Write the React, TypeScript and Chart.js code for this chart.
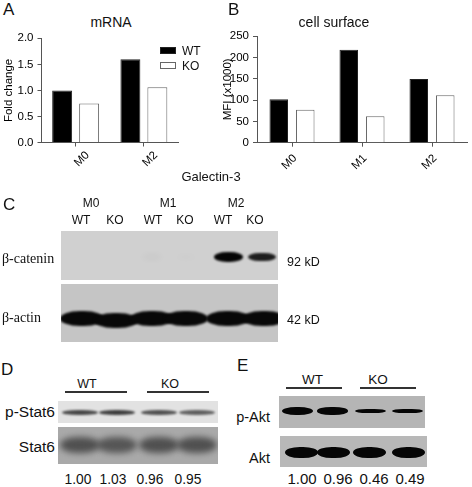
import React, { useEffect, useRef } from 'react';
import { Chart, registerables } from 'chart.js';

Chart.register(...registerables);

const SANS = '"Liberation Sans", Arial, Helvetica, sans-serif';
const SERIF = '"Liberation Serif", "Times New Roman", serif';

// ---------- Panel A: Galectin-3 mRNA ----------
const mrnaCategories = ['M0', 'M2'];
const mrnaWT = [1.0, 1.6];
const mrnaKO = [0.75, 1.06];
const mrnaTicks = [0, 0.5, 1.0, 1.5, 2.0];

// ---------- Panel B: Galectin-3 cell surface ----------
const surfaceCategories = ['M0', 'M1', 'M2'];
const surfaceWT = [102, 218, 149];
const surfaceKO = [77, 62, 111];
const surfaceTicks = [0, 50, 100, 150, 200, 250];

const seriesNames = ['WT', 'KO'];

// ---------- Panel C: western blot ----------
const cGroups = ['M0', 'M1', 'M2'];
const cLanes = ['WT', 'KO', 'WT', 'KO', 'WT', 'KO'];
const betaCateninSignal = [0.0, 0.0, 0.04, 0.015, 1.0, 0.8];
const betaActinSignal = [1, 1, 1, 1, 1, 1];
const cMarkers = ['92 kD', '42 kD'];

// ---------- Panel D ----------
const dGroups = ['WT', 'KO'];
const pStat6Signal = [0.85, 0.9, 0.8, 0.72];
const stat6Signal = [0.8, 0.75, 0.8, 0.8];
const pStat6Ratio = [1.0, 1.03, 0.96, 0.95];

// ---------- Panel E ----------
const eGroups = ['WT', 'KO'];
const pAktSignal = [1.0, 0.96, 0.6, 0.62];
const aktSignal = [1, 1, 1, 1];
const pAktRatio = [1.0, 0.96, 0.46, 0.49];

type Area = { left: number; top: number; right: number; bottom: number };

type BarProps = {
  left: number;
  top: number;
  width: number;
  height: number;
  labels: string[];
  wt: number[];
  ko: number[];
  ticks: number[];
  decimals: number;
  yTitle: string;
  titlePad: number;
  area: Area;
  catPct: number;
  barPct: number;
  labelOffset: number;
  labelPad: number;
};

function BarChart(p: BarProps) {
  const ref = useRef<HTMLCanvasElement | null>(null);
  useEffect(() => {
    if (!ref.current) return;
    const axisColor = '#555';
    const tickFont = { family: SANS, size: 11.5 };
    const chart = new Chart(ref.current, {
      type: 'bar',
      data: {
        labels: p.labels,
        datasets: [
          {
            label: seriesNames[0],
            data: p.wt,
            backgroundColor: '#000',
            borderColor: '#222',
            borderWidth: 1,
            categoryPercentage: p.catPct,
            barPercentage: p.barPct,
          },
          {
            label: seriesNames[1],
            data: p.ko,
            backgroundColor: '#fff',
            borderColor: '#666',
            borderWidth: 1,
            categoryPercentage: p.catPct,
            barPercentage: p.barPct,
          },
        ],
      },
      options: {
        animation: false,
        responsive: false,
        maintainAspectRatio: false,
        events: [],
        layout: {
          padding: {
            left: 0,
            top: p.area.top,
            right: p.width - p.area.right,
            bottom: 0,
          },
        },
        plugins: {
          legend: { display: false },
          title: { display: false },
          tooltip: { enabled: false },
        },
        scales: {
          x: {
            offset: true,
            grid: {
              offset: false,
              drawOnChartArea: false,
              drawTicks: true,
              tickLength: 4,
              color: axisColor,
              lineWidth: 1,
            },
            border: { display: true, color: axisColor, width: 1 },
            ticks: {
              minRotation: 45,
              maxRotation: 45,
              autoSkip: false,
              font: tickFont,
              color: '#000',
              padding: p.labelPad,
              labelOffset: p.labelOffset,
            },
            afterFit: (s: any) => {
              s.height = p.height - p.area.bottom;
            },
          },
          y: {
            min: p.ticks[0],
            max: p.ticks[p.ticks.length - 1],
            afterBuildTicks: (s: any) => {
              s.ticks = p.ticks.map((v) => ({ value: v }));
            },
            grid: {
              drawOnChartArea: false,
              drawTicks: true,
              tickLength: 4,
              color: axisColor,
              lineWidth: 1,
            },
            border: { display: true, color: axisColor, width: 1 },
            ticks: {
              font: tickFont,
              color: '#000',
              padding: 4,
              callback: (v: any) => Number(v).toFixed(p.decimals),
            },
            title: {
              display: true,
              text: p.yTitle,
              font: { family: SANS, size: 11.5 },
              color: '#000',
              padding: { top: p.titlePad, bottom: 0 },
            },
            afterFit: (s: any) => {
              s.width = p.area.left;
            },
          },
        },
      },
    });
    return () => chart.destroy();
  }, []);
  return (
    <canvas
      ref={ref}
      width={p.width}
      height={p.height}
      style={{ position: 'absolute', left: p.left, top: p.top, width: p.width, height: p.height }}
    />
  );
}

type TextProps = {
  x: number;
  y: number;
  text: string;
  size: number;
  align?: 'left' | 'center' | 'right';
  family?: string;
  scaleX?: number;
};

function T({ x, y, text, size, align = 'center', family = SANS, scaleX = 1 }: TextProps) {
  const tx = align === 'center' ? '-50%' : align === 'right' ? '-100%' : '0';
  return (
    <div
      style={{
        position: 'absolute',
        left: x,
        top: y,
        transform: `translate(${tx}, -50%) scaleX(${scaleX})`,
        transformOrigin: align === 'right' ? 'right center' : align === 'left' ? 'left center' : 'center',
        fontFamily: family,
        fontSize: size,
        lineHeight: 1,
        whiteSpace: 'nowrap',
        color: '#111',
      }}
    >
      {text}
    </div>
  );
}

type Band = { cx: number; cy: number; w: number; h: number; color: string; blur: number; op: number };

function Blot({ x, y, w, h, bg, bands }: { x: number; y: number; w: number; h: number; bg: string; bands: Band[] }) {
  return (
    <div
      style={{
        position: 'absolute',
        left: x,
        top: y,
        width: w,
        height: h,
        background: bg,
        overflow: 'hidden',
      }}
    >
      {bands.map((b, i) => (
        <div
          key={i}
          style={{
            position: 'absolute',
            left: b.cx - b.w / 2 - x,
            top: b.cy - b.h / 2 - y,
            width: b.w,
            height: b.h,
            borderRadius: '45% / 50%',
            background: b.color,
            filter: `blur(${b.blur}px)`,
            opacity: b.op,
          }}
        />
      ))}
    </div>
  );
}

function Rule({ x1, x2, y }: { x1: number; x2: number; y: number }) {
  return (
    <div
      style={{ position: 'absolute', left: x1, top: y - 0.75, width: x2 - x1, height: 1.5, background: '#333' }}
    />
  );
}

export default function App() {
  // lane layouts
  const cLaneX = [82, 116, 152, 186, 228, 262];
  const cLaneLabelX = [81, 115, 153, 185, 223, 255];
  const cGroupX = [91, 168, 236];
  const dLaneX = [80, 117, 159, 197];
  const dNumX = [78, 112.5, 150, 188];
  const eLaneX = [297, 332, 370, 407];
  const eAktX = [301, 333, 369, 408];
  const eNumX = [302, 338, 374, 410];

  const cateninBands: Band[] = betaCateninSignal.map((s, i) => ({
    cx: cLaneX[i],
    cy: 257,
    w: 20 + 9 * s,
    h: 4 + 6 * s,
    color: '#050505',
    blur: s > 0.5 ? 1 : 3,
    op: Math.min(1, s * 1.1),
  }));
  const actinBands: Band[] = betaActinSignal.map((s, i) => ({
    cx: cLaneX[i] + (i === 5 ? 2 : 0),
    cy: i === 1 ? 320 : 318,
    w: 44,
    h: 15,
    color: '#080808',
    blur: 1,
    op: s,
  }));
  const pStat6Bands: Band[] = pStat6Signal.map((s, i) => ({
    cx: dLaneX[i],
    cy: 412,
    w: 36,
    h: 5,
    color: '#2e2e2e',
    blur: 0.8,
    op: s,
  }));
  const stat6Bands: Band[] = stat6Signal.map((s, i) => ({
    cx: dLaneX[i],
    cy: 445,
    w: 40,
    h: 16,
    color: '#3a3a3a',
    blur: 3,
    op: s,
  }));
  const pAktBands: Band[] = pAktSignal.map((s, i) => ({
    cx: eLaneX[i],
    cy: 411,
    w: 31,
    h: 8 * s,
    color: '#050505',
    blur: 0.7,
    op: 1,
  }));
  const aktBands: Band[] = aktSignal.map((s, i) => ({
    cx: eAktX[i],
    cy: 452,
    w: 33,
    h: 11,
    color: '#050505',
    blur: 0.7,
    op: s,
  }));

  return (
    <div
      style={{
        position: 'absolute',
        left: 0,
        top: 0,
        width: 472,
        height: 487,
        background: '#fff',
        overflow: 'hidden',
        fontFamily: SANS,
      }}
    >
      {/* Panel A */}
      <T x={3} y={9} text="A" size={17} align="left" />
      <T x={111} y={22} text="mRNA" size={14} />
      <BarChart
        left={0}
        top={0}
        width={230}
        height={175}
        labels={mrnaCategories}
        wt={mrnaWT}
        ko={mrnaKO}
        ticks={mrnaTicks}
        decimals={1}
        yTitle="Fold change"
        titlePad={2}
        area={{ left: 41.5, top: 38.3, right: 178, bottom: 142.5 }}
        catPct={0.79}
        barPct={0.74}
        labelOffset={12}
        labelPad={2}
      />
      {/* legend */}
      <div style={{ position: 'absolute', left: 160, top: 47, width: 16, height: 7, background: '#000', border: '1px solid #222', boxSizing: 'border-box' }} />
      <div style={{ position: 'absolute', left: 160, top: 62, width: 16, height: 7, background: '#fff', border: '1px solid #666', boxSizing: 'border-box' }} />
      <T x={182} y={50.5} text={seriesNames[0]} size={12} align="left" />
      <T x={182} y={65.5} text={seriesNames[1]} size={12} align="left" />

      {/* Panel B */}
      <T x={228} y={9} text="B" size={17} align="left" />
      <T x={334} y={22} text="cell surface" size={14} />
      <BarChart
        left={220}
        top={0}
        width={252}
        height={175}
        labels={surfaceCategories}
        wt={surfaceWT}
        ko={surfaceKO}
        ticks={surfaceTicks}
        decimals={0}
        yTitle="MFI (x1000)"
        titlePad={1}
        area={{ left: 37, top: 36, right: 247, bottom: 142.7 }}
        catPct={0.757}
        barPct={0.7}
        labelOffset={3}
        labelPad={5}
      />
      <T x={211} y={176} text="Galectin-3" size={13} />

      {/* Panel C */}
      <T x={3} y={204} text="C" size={17} align="left" />
      {cGroups.map((g, i) => (
        <T key={g} x={cGroupX[i]} y={203} text={g} size={12} />
      ))}
      {cLanes.map((l, i) => (
        <T key={i} x={cLaneLabelX[i]} y={220} text={l} size={12} />
      ))}
      <Blot x={61} y={231} w={217} h={49} bg="#d0d0d0" bands={cateninBands} />
      <Blot x={61} y={284} w={217} h={58} bg="#c5c5c5" bands={actinBands} />
      <T x={2} y={259} text="β-catenin" size={14} align="left" family={SERIF} />
      <T x={2} y={318} text="β-actin" size={14} align="left" family={SERIF} />
      <T x={287} y={262} text={cMarkers[0]} size={12.5} align="left" />
      <T x={287} y={320} text={cMarkers[1]} size={12.5} align="left" />

      {/* Panel D */}
      <T x={1} y={369} text="D" size={17} align="left" />
      <T x={87} y={384} text={dGroups[0]} size={12.5} />
      <T x={170} y={384} text={dGroups[1]} size={12.5} />
      <Rule x1={65} x2={127} y={392} />
      <Rule x1={147} x2={209} y={392} />
      <Blot x={58} y={401} w={160} h={22} bg="#e2e2e2" bands={pStat6Bands} />
      <Blot x={58} y={427} w={160} h={37} bg="#a9a9a9" bands={stat6Bands} />
      <T x={55} y={412} text="p-Stat6" size={15.5} align="right" />
      <T x={55} y={447} text="Stat6" size={15.5} align="right" />
      {pStat6Ratio.map((v, i) => (
        <T key={i} x={dNumX[i]} y={478} text={v.toFixed(2)} size={15} scaleX={0.92} />
      ))}

      {/* Panel E */}
      <T x={237} y={365} text="E" size={17} align="left" />
      <T x={312.5} y={380} text={eGroups[0]} size={13.5} />
      <T x={378} y={380} text={eGroups[1]} size={13.5} />
      <Rule x1={286} x2={342} y={388} />
      <Rule x1={360} x2={416} y={388} />
      <Blot x={279} y={396} w={146} h={32} bg="#b5b5b5" bands={pAktBands} />
      <Blot x={280} y={436} w={147} h={31} bg="#b8b8b8" bands={aktBands} />
      <T x={270} y={417} text="p-Akt" size={14.5} align="right" />
      <T x={270} y={458} text="Akt" size={14.5} align="right" />
      {pAktRatio.map((v, i) => (
        <T key={i} x={eNumX[i]} y={478} text={v.toFixed(2)} size={15} />
      ))}
    </div>
  );
}
